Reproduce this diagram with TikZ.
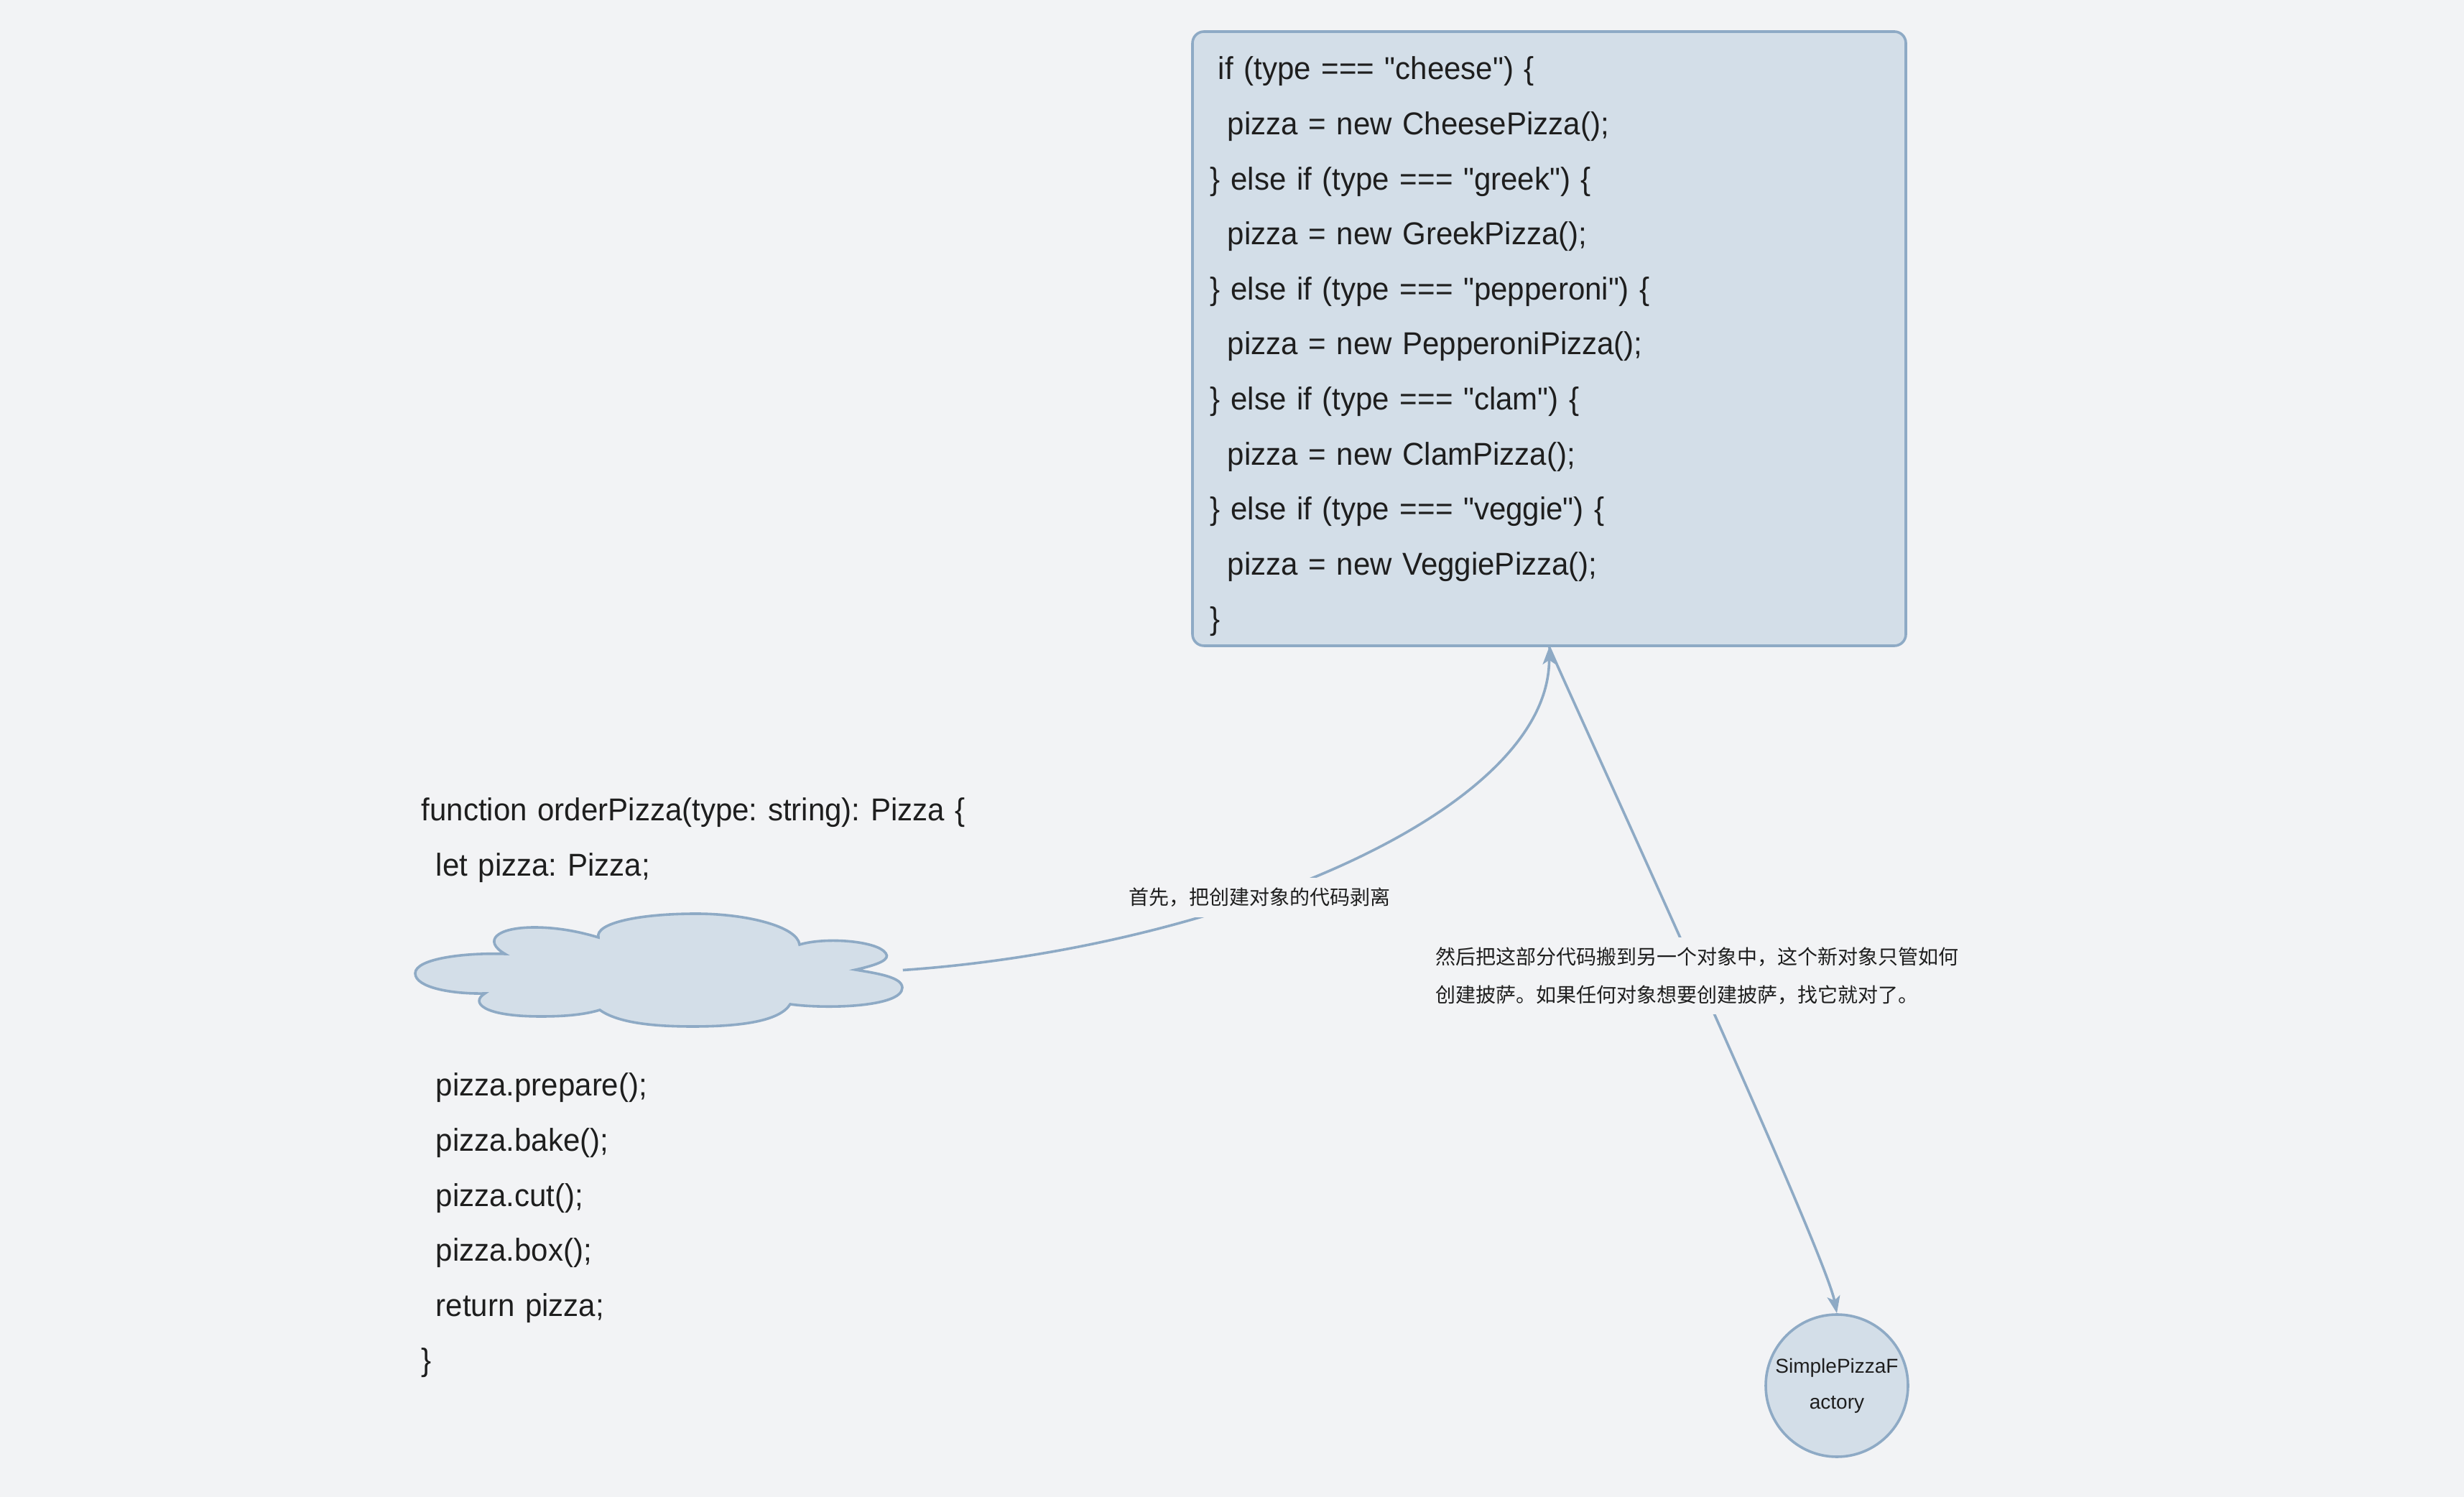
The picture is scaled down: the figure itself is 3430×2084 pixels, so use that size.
\documentclass[tikz,border=0pt]{standalone}
\usepackage{fontspec}
\usetikzlibrary{arrows.meta}
\setmainfont{Liberation Sans}
\newfontfamily\codefont[FakeStretch=0.955]{Liberation Sans}
\newfontfamily\cjkfont{Noto Sans CJK SC}
\definecolor{bgc}{HTML}{F2F3F5}
\definecolor{fillc}{HTML}{D3DEE8}
\definecolor{edgec}{HTML}{8EAAC5}
\definecolor{txtc}{HTML}{1E1E1E}
\tikzset{
  codebox/.style={draw=edgec, line width=0.9pt, fill=fillc, rounded corners=4pt,
    minimum width=248.25pt, minimum height=213.75pt, inner sep=0pt},
  codetext/.style={inner sep=0pt, text width=236.25pt, align=left,
    font=\codefont\fontsize{11}{19.15}\selectfont, text=txtc},
  cloudsty/.style={draw=edgec, line width=0.9pt, fill=fillc},
  conn/.style={draw=edgec, line width=0.9pt, -{Stealth[length=6pt,width=4.5pt,inset=1.5pt]}},
  lab/.style={fill=bgc, inner xsep=3pt, inner ysep=3.5pt, font=\cjkfont\fontsize{7}{13.1}\selectfont,
    text=txtc, align=left},
  fac/.style={circle, draw=edgec, fill=fillc, line width=0.9pt, minimum size=49.5pt,
    inner sep=0pt, align=center, font=\fontsize{7}{12.5}\selectfont, text=txtc}
}
\begin{document}
\frenchspacing
\begin{tikzpicture}[x=0.25pt,y=-0.25pt]
\useasboundingbox (0,0) rectangle (3430,2084);
\fill[bgc] (0,0) rectangle (3430,2084);

% code box
\node[codebox] (code) at (2156.5,471.5) {};
\node[codetext, anchor=base west] (codetxt) at (1684,111) {%
\hspace*{2.75pt}if (type === "cheese") \{\\
\hspace*{6pt}pizza = new CheesePizza();\\
\} else if (type === "greek") \{\\
\hspace*{6pt}pizza = new GreekPizza();\\
\} else if (type === "pepperoni") \{\\
\hspace*{6pt}pizza = new PepperoniPizza();\\
\} else if (type === "clam") \{\\
\hspace*{6pt}pizza = new ClamPizza();\\
\} else if (type === "veggie") \{\\
\hspace*{6pt}pizza = new VeggiePizza();\\
\}};

% left code
\node[codetext, text width=200pt, anchor=base west] (order) at (586,1143) {%
function orderPizza(type: string): Pizza \{\\
\hspace*{5pt}let pizza: Pizza;\\
\mbox{}\\
\mbox{}\\
\mbox{}\\
\hspace*{5pt}pizza.prepare();\\
\hspace*{5pt}pizza.bake();\\
\hspace*{5pt}pizza.cut();\\
\hspace*{5pt}pizza.box();\\
\hspace*{5pt}return pizza;\\
\}};

% cloud
\node[inner sep=0pt, minimum width=169.5pt, minimum height=39.25pt] (cloud) at (917,1350.5) {};
\path[cloudsty]
  (703,1328) .. controls (650,1326) and (578,1334) .. (578,1355)
  .. controls (578,1375) and (630,1384) .. (675,1383)
  .. controls (655,1395) and (670,1415) .. (753,1415)
  .. controls (790,1415) and (815,1412) .. (835,1406)
  .. controls (860,1424) and (910,1429) .. (964,1429)
  .. controls (1030,1429) and (1085,1422) .. (1100,1398)
  .. controls (1150,1405) and (1256,1402) .. (1256,1375)
  .. controls (1256,1360) and (1220,1355) .. (1191,1350)
  .. controls (1222,1343) and (1240,1336) .. (1233,1327)
  .. controls (1222,1310) and (1150,1304) .. (1113,1315)
  .. controls (1110,1290) and (1040,1272) .. (969,1272)
  .. controls (890,1272) and (828,1285) .. (833,1305)
  .. controls (800,1295) and (770,1291) .. (744,1291)
  .. controls (690,1291) and (672,1310) .. (703,1328) -- cycle;

% factory circle
\node[fac] (fac) at (2557,1929) {SimplePizzaF\\actory};

% connectors
\draw[conn] (cloud.east) .. controls (1700,1320) and (2157,1130) .. (code.south)
  node[lab, pos=0.39] (lab1) {首先，把创建对象的代码剥离};
\draw[conn] (code.south) .. controls (2200,1000) and (2540,1740) .. (fac.north)
  node[lab, pos=0.492] (lab2) {然后把这部分代码搬到另一个对象中，这个新对象只管如何\\创建披萨。如果任何对象想要创建披萨，找它就对了。};
\end{tikzpicture}
\end{document}
